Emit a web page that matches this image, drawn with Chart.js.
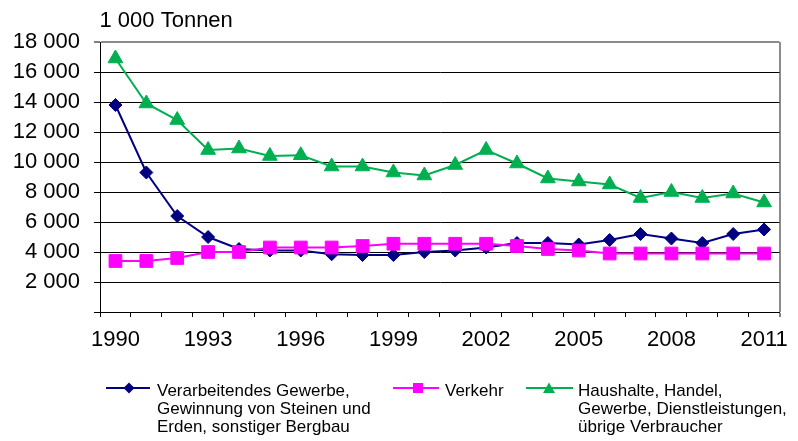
<!DOCTYPE html>
<html>
<head>
<meta charset="utf-8">
<script src="https://cdn.jsdelivr.net/npm/chart.js@4/dist/chart.umd.min.js"></script>
<style>
  body { margin: 0; background: #fff; }
  #wrap { position: relative; width: 798px; height: 441px; overflow: hidden; }
  #chart { position: absolute; left: 0; top: 0; }
  .sym { position: absolute; }
  .txt { position: absolute; font: 17px "Liberation Sans", Arial, sans-serif; line-height: 18.3px; color: #000; white-space: nowrap; }
</style>
</head>
<body>
<div id="wrap">
  <canvas id="chart" width="798" height="441"></canvas>

  <svg class="sym" style="left:106px; top:380.5px" width="44" height="14">
    <line x1="0" y1="7" x2="44" y2="7" stroke="#000080" stroke-width="2"/>
    <polygon points="23,1.5 28.5,7 23,12.5 17.5,7" fill="#000080"/>
  </svg>
  <div class="txt" style="left:157px; top:381.7px">Verarbeitendes Gewerbe,<br>Gewinnung von Steinen und<br>Erden, sonstiger Bergbau</div>

  <svg class="sym" style="left:393px; top:380.5px" width="46" height="14">
    <line x1="0" y1="7" x2="46" y2="7" stroke="#ff00ff" stroke-width="2"/>
    <rect x="20" y="2" width="10" height="10" fill="#ff00ff"/>
  </svg>
  <div class="txt" style="left:445px; top:381.7px">Verkehr</div>

  <svg class="sym" style="left:526px; top:380.5px" width="47" height="14">
    <line x1="0" y1="7" x2="47" y2="7" stroke="#00b050" stroke-width="2"/>
    <polygon points="23,1.5 29,12 17,12" fill="#00b050"/>
  </svg>
  <div class="txt" style="left:578px; top:381.7px">Haushalte, Handel,<br>Gewerbe, Dienstleistungen,<br>übrige Verbraucher</div>
</div>

<script>
// Jahre (x-Achse)
const years = ["1990", "1991", "1992", "1993", "1994", "1995", "1996", "1997", "1998", "1999", "2000",
               "2001", "2002", "2003", "2004", "2005", "2006", "2007", "2008", "2009", "2010", "2011"];

// Werte in 1 000 Tonnen
const verarbeitendesGewerbe = [13800, 9300, 6400, 5000, 4200, 4100, 4100, 3850, 3800, 3800, 4000,
                               4100, 4300, 4600, 4600, 4500, 4800, 5200, 4900, 4600, 5200, 5500];
const verkehr = [3400, 3400, 3600, 4000, 4000, 4300, 4300, 4300, 4400, 4550, 4550,
                 4550, 4550, 4400, 4200, 4100, 3900, 3900, 3900, 3900, 3900, 3900];
const haushalte = [16900, 13900, 12800, 10800, 10900, 10400, 10450, 9700, 9700, 9300, 9100,
                   9800, 10800, 9900, 8900, 8700, 8500, 7600, 8000, 7600, 7900, 7300];

const yTicks = { min: 0, max: 18000, step: 2000 };

const FONT = "'Liberation Sans', Arial, sans-serif";

function formatNumber(v) {
    return String(v).replace(/\B(?=(\d{3})+(?!\d))/g, " ");
}

// Einheit oben links über der Achse
const unitLabel = {
    id: "unitLabel",
    afterDraw(chart) {
        const ctx = chart.ctx;
        ctx.save();
        ctx.font = "22px " + FONT;
        ctx.fillStyle = "#000";
        ctx.textBaseline = "alphabetic";
        ctx.fillText("1 000 Tonnen", chart.chartArea.left - 0.5, 27);
        ctx.restore();
    }
};

new Chart(document.getElementById("chart"), {
    type: "line",
    data: {
        labels: years,
        datasets: [
            {
                label: "Verarbeitendes Gewerbe, Gewinnung von Steinen und Erden, sonstiger Bergbau",
                data: verarbeitendesGewerbe,
                borderColor: "#000080",
                backgroundColor: "#000080",
                borderWidth: 2,
                pointStyle: "rectRot",
                pointRadius: 6.5,
                pointBorderWidth: 1,
                tension: 0,
                order: 1
            },
            {
                label: "Verkehr",
                data: verkehr,
                borderColor: "#ff00ff",
                backgroundColor: "#ff00ff",
                borderWidth: 2,
                pointStyle: "rect",
                pointRadius: 9,
                pointBorderWidth: 1,
                tension: 0,
                order: 0
            },
            {
                label: "Haushalte, Handel, Gewerbe, Dienstleistungen, übrige Verbraucher",
                data: haushalte,
                borderColor: "#00b050",
                backgroundColor: "#00b050",
                borderWidth: 2,
                pointStyle: "triangle",
                pointRadius: 8.5,
                pointBorderWidth: 1,
                tension: 0,
                order: 2
            }
        ]
    },
    options: {
        responsive: false,
        animation: false,
        layout: { padding: { left: 0, right: 11.5, top: 42, bottom: 89 } },
        plugins: {
            legend: { display: false },
            tooltip: { enabled: false }
        },
        scales: {
            x: {
                type: "category",
                offset: true,
                afterFit: (scale) => { scale.height = 40; },
                grid: {
                    offset: true,
                    drawOnChartArea: true,
                    drawTicks: true,
                    tickLength: 5,
                    color: (ctx) => ctx.type === "tick" ? "rgba(0,0,0,0)" : "#8c8c8c",
                    lineWidth: (ctx) => ctx.type === "tick" ? 1 : 2,
                    tickColor: "#000",
                    tickWidth: 1
                },
                border: { display: true, color: "#000", width: 1 },
                ticks: {
                    autoSkip: false,
                    maxRotation: 0,
                    padding: 10,
                    color: "#000",
                    font: { family: FONT, size: 22 },
                    callback: function (value, index) {
                        return index % 3 === 0 ? this.getLabelForValue(value) : "";
                    }
                }
            },
            y: {
                min: yTicks.min,
                max: yTicks.max,
                afterFit: (scale) => { scale.width = 100; },
                grid: {
                    color: (ctx) => ctx.tick && ctx.tick.value === yTicks.max ? "#8c8c8c" : "#000",
                    lineWidth: (ctx) => ctx.tick && ctx.tick.value === yTicks.max ? 2 : 1,
                    tickColor: "#000",
                    tickWidth: 1,
                    tickLength: 6
                },
                border: { display: true, color: "#000", width: 1 },
                ticks: {
                    stepSize: yTicks.step,
                    padding: 14,
                    color: "#000",
                    font: { family: FONT, size: 22 },
                    callback: (v) => v === 0 ? "" : formatNumber(v)
                }
            }
        }
    },
    plugins: [unitLabel]
});
</script>
</body>
</html>
